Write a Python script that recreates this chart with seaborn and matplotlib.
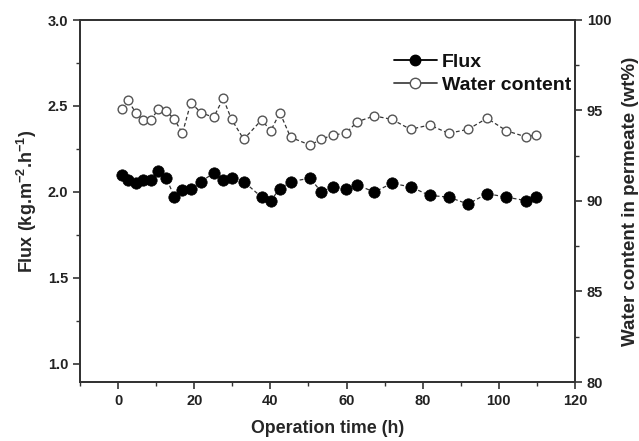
import matplotlib
matplotlib.use("Agg")
import matplotlib.pyplot as plt
from matplotlib.lines import Line2D
from matplotlib.ticker import MultipleLocator
import seaborn as sns
import pandas as pd

time_h = [1, 2.6, 4.6, 6.5, 8.6, 10.6, 12.7, 14.8, 16.9, 19.1, 21.8, 25.1, 27.6, 29.8,
          33, 37.7, 40.1, 42.5, 45.3, 50.4, 53.4, 56.4, 59.8, 62.8, 67.3, 71.9, 76.8,
          81.8, 86.8, 91.9, 96.9, 102, 107, 109.7]
flux = [2.10, 2.07, 2.05, 2.07, 2.07, 2.12, 2.08, 1.97, 2.01, 2.02, 2.06, 2.11, 2.07,
        2.08, 2.06, 1.97, 1.95, 2.02, 2.06, 2.08, 2.00, 2.03, 2.02, 2.04, 2.00, 2.05,
        2.03, 1.98, 1.97, 1.93, 1.99, 1.97, 1.95, 1.97]
water = [95.07, 95.58, 94.88, 94.48, 94.48, 95.07, 94.97, 94.51, 93.74, 95.43, 94.88,
         94.62, 95.67, 94.51, 93.41, 94.48, 93.88, 94.88, 93.52, 93.09, 93.41, 93.65,
         93.74, 94.38, 94.70, 94.51, 93.96, 94.20, 93.74, 93.96, 94.57, 93.88, 93.55, 93.65]

df = pd.DataFrame({"time": time_h, "flux": flux, "water": water})

sns.set_style("white")
plt.rcParams["font.family"] = ["Liberation Sans", "DejaVu Sans"]
plt.rcParams["font.weight"] = "bold"
plt.rcParams["axes.labelweight"] = "bold"
plt.rcParams["mathtext.fontset"] = "custom"
plt.rcParams["mathtext.rm"] = "Liberation Sans:bold"
plt.rcParams["mathtext.bf"] = "Liberation Sans:bold"
plt.rcParams["mathtext.it"] = "Liberation Sans:bold"
plt.rcParams["mathtext.default"] = "bf"

fig = plt.figure(figsize=(6.39, 4.41), dpi=100)
ax = fig.add_axes([80/639, 1-382/441, 495/639, 362/441])
ax2 = ax.twinx()

line_kw = dict(color="#333333", linewidth=0.9, linestyle=(0, (3, 2)))
sns.lineplot(data=df, x="time", y="flux", ax=ax, marker="o", markersize=8.2,
             markerfacecolor="black", markeredgecolor="black", markeredgewidth=0.5,
             **line_kw)
sns.lineplot(data=df, x="time", y="water", ax=ax2, marker="o", markersize=6.3,
             markerfacecolor="white", markeredgecolor="#555555", markeredgewidth=1.0,
             **line_kw)

ax.set_xlim(-10, 120)
ax.set_ylim(0.895, 3.0)
ax2.set_ylim(80, 100)

ax.xaxis.set_major_locator(MultipleLocator(20))
ax.xaxis.set_minor_locator(MultipleLocator(10))
ax.yaxis.set_major_locator(MultipleLocator(0.5))
ax.yaxis.set_minor_locator(MultipleLocator(0.25))
ax2.yaxis.set_major_locator(MultipleLocator(5))
ax2.yaxis.set_minor_locator(MultipleLocator(2.5))
ax.set_yticks([1.0, 1.5, 2.0, 2.5, 3.0])

for a in (ax, ax2):
    for s in a.spines.values():
        s.set_color("#333333")
        s.set_linewidth(1.3)

ax.tick_params(axis="both", which="major", direction="out", length=5, width=1.2,
               colors="#333333", labelsize=10.5, labelcolor="#222222", bottom=True, left=True)
ax.tick_params(axis="both", which="minor", direction="out", length=3, width=1.0,
               colors="#333333", bottom=True, left=True)
ax2.tick_params(axis="y", which="major", direction="out", length=5, width=1.2,
                colors="#333333", labelsize=10.5, labelcolor="#222222", right=True)
ax2.tick_params(axis="y", which="minor", direction="out", length=3, width=1.0,
                colors="#333333", right=True)
for lab in ax.get_xticklabels() + ax.get_yticklabels() + ax2.get_yticklabels():
    lab.set_fontweight("bold")

ax.set_xlabel("Operation time (h)", fontsize=12.8, fontweight="bold", labelpad=9)
ax.set_ylabel("Flux (kg.m$^{-2}$.h$^{-1}$)", fontsize=13, fontweight="bold", labelpad=6)
ax2.set_ylabel("Water content in permeate (wt%)", fontsize=13.5, fontweight="bold",
               labelpad=8)

handles = [
    Line2D([0], [0], color="black", linewidth=1.3, marker="o", markersize=7.5,
           markerfacecolor="black", markeredgecolor="black"),
    Line2D([0], [0], color="#444444", linewidth=1.3, marker="o", markersize=7.5,
           markerfacecolor="white", markeredgecolor="#555555"),
]
leg = ax.legend(handles, ["Flux", "Water content"], loc="upper right",
                bbox_to_anchor=(1 - 4/495, (382 - 53)/362), frameon=False,
                handlelength=2.2, handletextpad=0.27, labelspacing=0.28,
                borderaxespad=0.0, borderpad=0.0,
                prop={"weight": "bold", "size": 14})
for t in leg.get_texts():
    t.set_color("#111111")

fig.savefig("out.png", dpi=100)
